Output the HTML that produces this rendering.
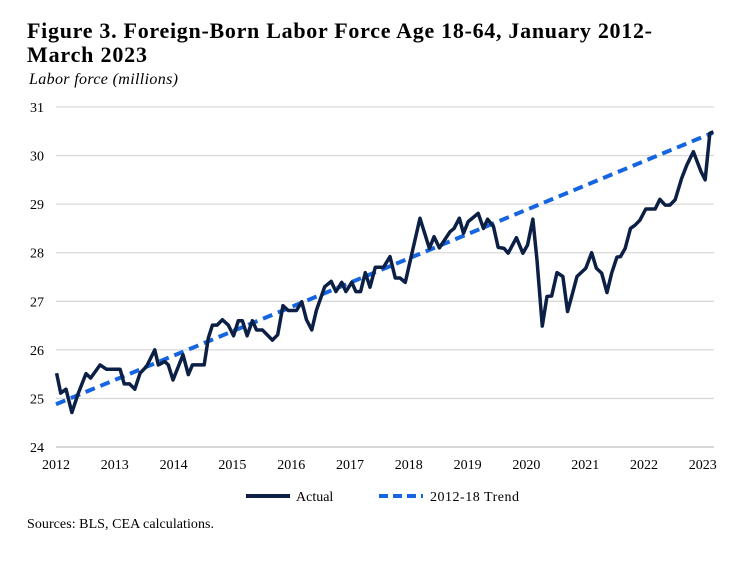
<!DOCTYPE html>
<html><head><meta charset="utf-8"><style>
body{margin:0;background:#fff;width:747px;height:570px;overflow:hidden;font-family:"Liberation Serif",serif;}
</style></head><body>
<svg width="747" height="570" style="position:absolute;left:0;top:0">
<text x="27" y="38" font-size="22" font-weight="bold" font-family="Liberation Serif" textLength="625" lengthAdjust="spacing">Figure 3. Foreign-Born Labor Force Age 18-64, January 2012-</text>
<text x="27" y="62" font-size="22" font-weight="bold" font-family="Liberation Serif" textLength="120" lengthAdjust="spacing">March 2023</text>
<text x="29" y="84" font-size="16" font-style="italic" font-family="Liberation Serif" textLength="149" lengthAdjust="spacing">Labor force (millions)</text>
<g id="grid"></g>
<g id="yt"></g>
<g id="xt"></g>
<g id="series"></g>
<g>
<line x1="246" y1="496" x2="290" y2="496" stroke="#0c1f45" stroke-width="4"/>
<text x="296" y="501" font-size="14">Actual</text>
<line x1="379" y1="496" x2="423" y2="496" stroke="#1565e0" stroke-width="4" stroke-dasharray="9,5"/>
<text x="430" y="501" font-size="14" textLength="89" lengthAdjust="spacing">2012-18 Trend</text>
</g>
<text x="27" y="528" font-size="14" textLength="187" lengthAdjust="spacing">Sources: BLS, CEA calculations.</text>
</svg>
<script>
const actualYears=[2012.01,2012.08,2012.17,2012.27,2012.38,2012.51,2012.59,2012.75,2012.86,2013.09,2013.16,2013.25,2013.34,2013.43,2013.54,2013.68,2013.74,2013.85,2013.91,2013.99,2014.16,2014.25,2014.32,2014.52,2014.59,2014.66,2014.74,2014.83,2014.93,2015.02,2015.1,2015.17,2015.25,2015.34,2015.41,2015.51,2015.68,2015.77,2015.86,2015.95,2016.09,2016.18,2016.26,2016.35,2016.43,2016.57,2016.68,2016.76,2016.86,2016.93,2017.03,2017.1,2017.18,2017.26,2017.34,2017.43,2017.57,2017.68,2017.77,2017.85,2017.94,2018.19,2018.35,2018.43,2018.52,2018.7,2018.77,2018.86,2018.93,2019.01,2019.18,2019.27,2019.34,2019.44,2019.52,2019.62,2019.69,2019.83,2019.94,2020.02,2020.11,2020.18,2020.27,2020.35,2020.43,2020.52,2020.62,2020.7,2020.77,2020.86,2021.01,2021.11,2021.19,2021.28,2021.37,2021.45,2021.54,2021.6,2021.68,2021.77,2021.85,2021.93,2022.03,2022.19,2022.27,2022.36,2022.44,2022.53,2022.64,2022.73,2022.84,2022.97,2023.04,2023.12,2023.18];
const actualValues=[25.52,25.11,25.19,24.71,25.11,25.51,25.42,25.69,25.6,25.6,25.3,25.3,25.19,25.52,25.66,26.0,25.69,25.76,25.69,25.38,25.9,25.49,25.69,25.69,26.24,26.51,26.51,26.62,26.51,26.29,26.6,26.6,26.29,26.6,26.41,26.41,26.2,26.31,26.91,26.81,26.81,26.99,26.62,26.41,26.82,27.3,27.41,27.2,27.39,27.2,27.39,27.2,27.2,27.59,27.29,27.7,27.7,27.92,27.48,27.48,27.39,28.71,28.09,28.33,28.1,28.43,28.5,28.71,28.4,28.64,28.81,28.5,28.69,28.54,28.11,28.09,27.99,28.31,27.99,28.16,28.69,27.85,26.49,27.1,27.11,27.59,27.51,26.79,27.1,27.51,27.68,28.0,27.68,27.58,27.18,27.58,27.91,27.92,28.09,28.5,28.57,28.67,28.9,28.9,29.1,28.98,28.98,29.09,29.53,29.81,30.08,29.67,29.5,30.46,30.49];
const trendYears=[2012.0,2023.17];
const trendValues=[24.88,30.47];
const yTicks=[24,25,26,27,28,29,30,31];
const xTicks=[2012,2013,2014,2015,2016,2017,2018,2019,2020,2021,2022,2023];
const NS="http://www.w3.org/2000/svg";
const X=y=>56+(y-2012)*58.8;
const Y=v=>447-(v-24)*48.57;
function mk(t,p,a){const e=document.createElementNS(NS,t);for(const k in a)e.setAttribute(k,a[k]);document.getElementById(p).appendChild(e);return e;}
yTicks.forEach(v=>{
 const l=mk('line','grid',{x1:56,x2:714,y1:Y(v),y2:Y(v),stroke:v===24?'#bfbfbf':'#d9d9d9','stroke-width':1.3});
 
 
 const t=mk('text','yt',{x:44,y:Y(v)+5,'font-size':14,'text-anchor':'end'});t.textContent=v;
 
 
});
xTicks.forEach(y=>{
 const t=mk('text','xt',{x:X(y),y:469,'font-size':14,'text-anchor':'middle'});t.textContent=y;
 
 
});
const tr=mk('polyline','series',{points:trendYears.map((y,i)=>X(y)+','+Y(trendValues[i])).join(' '),fill:'none',stroke:'#1565e0','stroke-width':4,'stroke-dasharray':'10,6'});


const ac=mk('polyline','series',{points:actualYears.map((y,i)=>X(y)+','+Y(actualValues[i])).join(' '),fill:'none',stroke:'#0c1f45','stroke-width':3.5,'stroke-linejoin':'round'});


</script>
</body></html>
